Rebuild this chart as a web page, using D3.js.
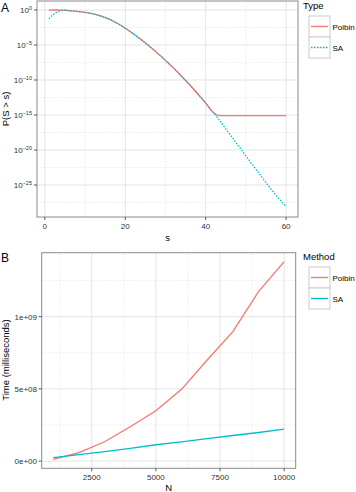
<!DOCTYPE html>
<html>
<head>
<meta charset="utf-8">
<script src="https://cdn.jsdelivr.net/npm/d3@7"></script>
<style>
  body { margin: 0; background: #fff; }
  svg { display: block; font-family: "Liberation Sans", Arial, sans-serif; }
  .tick-lab { font-size: 8px; fill: #333; }
  .ax-title { font-size: 9.5px; fill: #000; }
  .leg-title { font-size: 9.5px; fill: #000; }
  .leg-lab { font-size: 8px; fill: #000; }
  .panel-tag { font-size: 12px; fill: #000; }
</style>
</head>
<body>
<div id="chart"></div>
<script>
// panel A: tail probability P(S > s), stored as log10 exponents
const sVals     = [1, 2, 3, 4, 5, 6, 8, 10, 12, 14, 16, 18, 20, 22, 24, 26, 28, 30, 32, 34, 36, 38, 40, 42, 43, 44, 46, 48, 50, 52, 54, 56, 58, 60];
const poibinExp = [0, 0, 0, -0.01, -0.03, -0.1, -0.2, -0.33, -0.55, -0.87, -1.3, -1.9, -2.6, -3.4, -4.26, -5.18, -6.16, -7.2, -8.3, -9.46, -10.68, -11.96, -13.3, -14.7, -15.05, -15.1, -15.1, -15.1, -15.1, -15.1, -15.1, -15.1, -15.1, -15.1];
const saExp     = [-1.26, -0.7, -0.3, -0.1, -0.03, -0.1, -0.2, -0.33, -0.55, -0.87, -1.3, -1.9, -2.6, -3.4, -4.26, -5.18, -6.16, -7.2, -8.3, -9.46, -10.68, -11.96, -13.3, -14.7, -15.43, -16.2, -17.75, -19.3, -20.85, -22.4, -23.9, -25.4, -26.8, -28.1];
const typeNames = ["Poibin", "SA"];
const yExpTicksA = [0, -5, -10, -15, -20, -25];
const xTicksA = [0, 20, 40, 60];

// panel B: running time in milliseconds
const nVals      = [1000, 2000, 3000, 4000, 5000, 6000, 7000, 8000, 9000, 10000];
const poibinTime = [0.012e9, 0.058e9, 0.134e9, 0.238e9, 0.349e9, 0.497e9, 0.70e9, 0.896e9, 1.173e9, 1.381e9];
const saTime     = [0.024e9, 0.045e9, 0.066e9, 0.088e9, 0.113e9, 0.133e9, 0.155e9, 0.177e9, 0.198e9, 0.222e9];
const methodNames = ["Poibin", "SA"];
const yTicksB = [0, 5e8, 1e9];
const yTickLabB = ["0e+00", "5e+08", "1e+09"];
const xTicksB = [2500, 5000, 7500, 10000];

const COL = { Poibin: "#F8766D", SA: "#00BFC4" };
const W = 356, H = 492;

const svg = d3.select("#chart").append("svg").attr("width", W).attr("height", H);

function panelFrame(g, x, y, minorX, minorY, majorX, majorY) {
  const [x0, x1] = x.range(), [y0, y1] = y.range();
  g.append("rect").attr("x", x0).attr("y", y1).attr("width", x1 - x0).attr("height", y0 - y1).attr("fill", "#fff");
  g.selectAll(".mnx").data(minorX).join("line").attr("class", "mnx")
    .attr("x1", x).attr("x2", x).attr("y1", y0).attr("y2", y1)
    .attr("stroke", "#e6e6e6").attr("stroke-width", 0.8).attr("stroke-dasharray", "1.5,1.5");
  g.selectAll(".mny").data(minorY).join("line").attr("class", "mny")
    .attr("y1", y).attr("y2", y).attr("x1", x0).attr("x2", x1)
    .attr("stroke", "#e6e6e6").attr("stroke-width", 0.8).attr("stroke-dasharray", "1.5,1.5");
  g.selectAll(".mjx").data(majorX).join("line").attr("class", "mjx")
    .attr("x1", x).attr("x2", x).attr("y1", y0).attr("y2", y1)
    .attr("stroke", "#e3e3e3").attr("stroke-width", 1);
  g.selectAll(".mjy").data(majorY).join("line").attr("class", "mjy")
    .attr("y1", y).attr("y2", y).attr("x1", x0).attr("x2", x1)
    .attr("stroke", "#e3e3e3").attr("stroke-width", 1);
}

function border(g, x, y) {
  const [x0, x1] = x.range(), [y0, y1] = y.range();
  g.append("rect").attr("x", x0).attr("y", y1).attr("width", x1 - x0).attr("height", y0 - y1)
    .attr("fill", "none").attr("stroke", "#8a8a8a").attr("stroke-width", 1);
}

function legend(g, lx, ly, title, names, dashed) {
  g.append("text").attr("class", "leg-title").attr("x", lx - 6).attr("y", ly).text(title);
  names.forEach((n, i) => {
    const by = ly + 7 + i * 21;
    g.append("rect").attr("x", lx).attr("y", by).attr("width", 21).attr("height", 21)
      .attr("fill", "#fff").attr("stroke", "#cccccc").attr("stroke-width", 1);
    g.append("line").attr("x1", lx + 2).attr("x2", lx + 19).attr("y1", by + 10.5).attr("y2", by + 10.5)
      .attr("stroke", COL[n]).attr("stroke-width", 1.3)
      .attr("stroke-dasharray", dashed && n === "SA" ? "1.5,1.5" : null);
    g.append("text").attr("class", "leg-lab").attr("x", lx + 23.5).attr("y", by + 13.5).text(n);
  });
}

// ---------- Panel A ----------
const gA = svg.append("g");
const xA = d3.scaleLinear().domain([-1.95, 62.95]).range([37, 298]);
const yA = d3.scaleLog().domain([Math.pow(10, -29.57), Math.pow(10, 1.286)]).range([217, 1]);

panelFrame(gA, xA, yA, [10, 30, 50], [-2.5, -7.5, -12.5, -17.5, -22.5, -27.5].map((e) => Math.pow(10, e)),
  xTicksA, yExpTicksA.map((e) => Math.pow(10, e)));

const lineA = (exps) => d3.line().x((d, i) => xA(sVals[i])).y((d) => yA(Math.pow(10, d))).curve(d3.curveMonotoneX)(exps);
gA.append("path").attr("d", lineA(poibinExp)).attr("fill", "none")
  .attr("stroke", COL.Poibin).attr("stroke-width", 1.3);
gA.append("path").attr("d", lineA(saExp)).attr("fill", "none")
  .attr("stroke", COL.SA).attr("stroke-width", 1.3).attr("stroke-dasharray", "1.5,1.5");
border(gA, xA, yA);

// ticks A
gA.selectAll(".ytA").data(yExpTicksA).join("line")
  .attr("x1", 34).attr("x2", 37).attr("y1", (e) => yA(Math.pow(10, e))).attr("y2", (e) => yA(Math.pow(10, e)))
  .attr("stroke", "#555");
const ylabA = gA.selectAll(".ylA").data(yExpTicksA).join("text").attr("class", "tick-lab")
  .attr("text-anchor", "end").attr("x", 32).attr("y", (e) => yA(Math.pow(10, e)) + 3);
ylabA.append("tspan").text("10");
ylabA.append("tspan").attr("dy", -3.5).style("font-size", "5.5px").text((e) => (e === 0 ? "0" : "\u2212" + (-e)));

gA.selectAll(".xtA").data(xTicksA).join("line")
  .attr("x1", xA).attr("x2", xA).attr("y1", 217).attr("y2", 220).attr("stroke", "#555");
gA.selectAll(".xlA").data(xTicksA).join("text").attr("class", "tick-lab")
  .attr("text-anchor", "middle").attr("x", xA).attr("y", 229).text((d) => d);

gA.append("text").attr("class", "ax-title").attr("text-anchor", "middle")
  .attr("x", (37 + 298) / 2).attr("y", 241).text("s");
gA.append("text").attr("class", "ax-title").attr("text-anchor", "middle")
  .attr("transform", "translate(9,109) rotate(-90)").text("P(S > s)");
gA.append("text").attr("class", "panel-tag").attr("x", 1).attr("y", 12).text("A");
legend(gA, 309, 9, "Type", typeNames, true);

// ---------- Panel B ----------
const gB = svg.append("g");
const xB = d3.scaleLinear().domain([550, 10450]).range([41.7, 295.7]);
const yB = d3.scaleLinear().domain([-0.05e9, 1.443e9]).range([468.3, 252.7]);

panelFrame(gB, xB, yB, [1250, 3750, 6250, 8750], [2.5e8, 7.5e8, 1.25e9], xTicksB, yTicksB);

const lineB = (vals) => d3.line().x((d, i) => xB(nVals[i])).y((d) => yB(d))(vals);
gB.append("path").attr("d", lineB(poibinTime)).attr("fill", "none")
  .attr("stroke", COL.Poibin).attr("stroke-width", 1.3);
gB.append("path").attr("d", lineB(saTime)).attr("fill", "none")
  .attr("stroke", COL.SA).attr("stroke-width", 1.3);
border(gB, xB, yB);

gB.selectAll(".ytB").data(yTicksB).join("line")
  .attr("x1", 38.7).attr("x2", 41.7).attr("y1", yB).attr("y2", yB).attr("stroke", "#555");
gB.selectAll(".ylB").data(yTicksB).join("text").attr("class", "tick-lab")
  .attr("text-anchor", "end").attr("x", 37).attr("y", (d) => yB(d) + 3)
  .text((d, i) => yTickLabB[i]);
gB.selectAll(".xtB").data(xTicksB).join("line")
  .attr("x1", xB).attr("x2", xB).attr("y1", 468.3).attr("y2", 471.3).attr("stroke", "#555");
gB.selectAll(".xlB").data(xTicksB).join("text").attr("class", "tick-lab")
  .attr("text-anchor", "middle").attr("x", xB).attr("y", 480).text((d) => d);

gB.append("text").attr("class", "ax-title").attr("text-anchor", "middle")
  .attr("x", (41.7 + 295.7) / 2).attr("y", 491).text("N");
gB.append("text").attr("class", "ax-title").attr("text-anchor", "middle")
  .attr("transform", "translate(9,360) rotate(-90)").text("Time (milliseconds)");
gB.append("text").attr("class", "panel-tag").attr("x", 1).attr("y", 262).text("B");
legend(gB, 309, 260, "Method", methodNames, false);
</script>
</body>
</html>
